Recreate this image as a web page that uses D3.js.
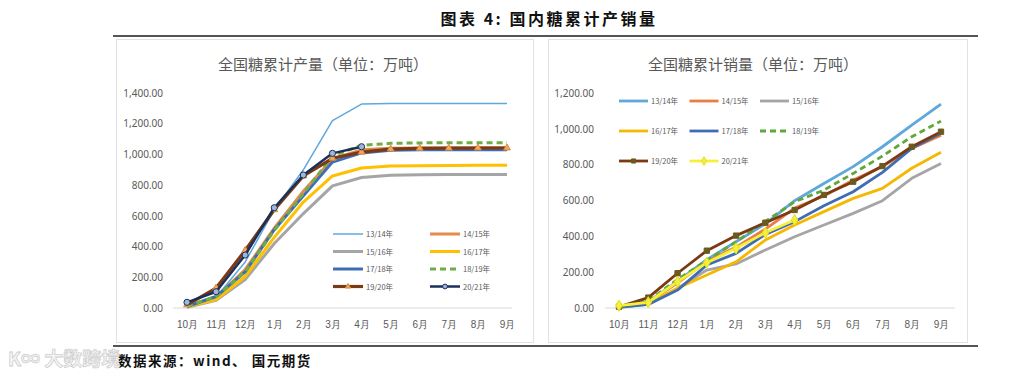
<!DOCTYPE html>
<html>
<head>
<meta charset="utf-8">
<script src="https://cdn.jsdelivr.net/npm/d3@7"></script>
<style>
  body { margin: 0; background: #fff; }
  svg { display: block; font-family: "Noto Sans CJK SC", "Noto Sans", sans-serif; }
</style>
</head>
<body>
<div id="chart"></div>
<script>
// months of the sugar season
const months = ['10月', '11月', '12月', '1月', '2月', '3月', '4月', '5月', '6月', '7月', '8月', '9月'];
const seasons = ['13/14年', '14/15年', '15/16年', '16/17年', '17/18年', '18/19年', '19/20年', '20/21年'];

// cumulative production (万吨)
const prod1314 = [13, 70, 300, 640, 900, 1220, 1328, 1331, 1331, 1331, 1331, 1332];
const prod1415 = [10, 70, 250, 520, 760, 970, 1030, 1040, 1042, 1042, 1043, 1043];
const prod1516 = [5, 50, 185, 420, 615, 795, 850, 865, 868, 869, 870, 870];
const prod1617 = [8, 55, 205, 460, 690, 860, 912, 925, 927, 928, 929, 929];
const prod1718 = [10, 75, 235, 510, 730, 950, 1010, 1027, 1030, 1031, 1031, 1031];
const prod1819 = [12, 75, 235, 505, 745, 990, 1060, 1072, 1075, 1076, 1076, 1076];
const prod1920 = [20, 130, 375, 640, 860, 975, 1015, 1035, 1040, 1041, 1042, 1042];
const prod2021 = [37, 106, 345, 653, 866, 1007, 1050];

// cumulative sales (万吨)
const sales1314 = [5, 35, 150, 270, 370, 470, 599, 695, 789, 900, 1021, 1138];
const sales1415 = [5, 30, 140, 260, 340, 440, 558, 625, 714, 789, 891, 965];
const sales1516 = [3, 20, 110, 212, 246, 324, 398, 463, 528, 599, 724, 807];
const sales1617 = [3, 25, 110, 184, 258, 379, 463, 538, 612, 668, 780, 869];
const sales1718 = [3, 20, 100, 240, 305, 411, 482, 571, 649, 757, 891, 975];
const sales1819 = [5, 40, 160, 265, 370, 483, 593, 658, 751, 848, 956, 1043];
const sales1920 = [7, 58, 194, 320, 404, 476, 547, 631, 705, 792, 900, 984];
const sales2021 = [13, 32, 147, 253, 333, 420, 491];

const svg = d3.select('#chart').append('svg')
    .attr('width', 1036)
    .attr('height', 376);

// heading and rules
svg.append('text')
    .attr('x', 549).attr('y', 25)
    .attr('text-anchor', 'middle')
    .attr('font-size', 16).attr('font-weight', 'bold')
    .attr('letter-spacing', 2.5)
    .attr('fill', '#111')
    .text('图表 4: 国内糖累计产销量');

svg.append('line').attr('x1', 113).attr('x2', 978).attr('y1', 36).attr('y2', 36)
    .attr('stroke', '#555').attr('stroke-width', 2);
svg.append('line').attr('x1', 113).attr('x2', 978).attr('y1', 346).attr('y2', 346)
    .attr('stroke', '#555').attr('stroke-width', 2);

// panel frames
svg.append('rect').attr('x', 116.5).attr('y', 39.5).attr('width', 417).attr('height', 303)
    .attr('fill', 'none').attr('stroke', '#e2e2e2');
svg.append('rect').attr('x', 548.5).attr('y', 39.5).attr('width', 419).attr('height', 303)
    .attr('fill', 'none').attr('stroke', '#e2e2e2');

// source + watermark
svg.append('text')
    .attr('x', 118).attr('y', 366)
    .attr('font-size', 13.5).attr('font-weight', 'bold')
    .attr('letter-spacing', 1.5)
    .attr('fill', '#111')
    .text('数据来源：wind、  国元期货');
svg.append('text')
    .attr('x', 8).attr('y', 366)
    .attr('font-size', 19).attr('font-weight', 'bold')
    .attr('fill', '#f6f6f6').attr('stroke', '#cfcfcf').attr('stroke-width', 0.8)
    .text('K∞ 大数跨境');

function drawPanel(cfg) {
    const x = d3.scalePoint().domain(months).range(cfg.xRange);
    const y = d3.scaleLinear().domain([0, cfg.yMax]).range([308, 93]);
    const g = svg.append('g');

    g.append('text')
        .attr('x', cfg.titleX).attr('y', 70)
        .attr('text-anchor', 'middle')
        .attr('font-size', 15).attr('fill', '#595959')
        .text(cfg.title);

    // y axis labels
    g.append('g')
        .attr('transform', `translate(${cfg.yLabelX},0)`)
        .call(d3.axisLeft(y).tickValues(d3.range(0, cfg.yMax + 1, 200))
            .tickSize(0).tickPadding(0).tickFormat(d3.format(',.2f')))
        .call(a => a.select('.domain').remove())
        .selectAll('text')
        .attr('font-size', 10).attr('fill', '#595959')
        .attr('font-family', '"Noto Sans", sans-serif');

    // x axis
    g.append('line')
        .attr('x1', cfg.axisX[0]).attr('x2', cfg.axisX[1])
        .attr('y1', y(0)).attr('y2', y(0))
        .attr('stroke', '#d9d9d9');
    g.append('g')
        .attr('transform', `translate(0,${y(0)})`)
        .call(d3.axisBottom(x).tickSize(0).tickPadding(13))
        .call(a => a.select('.domain').remove())
        .selectAll('text')
        .attr('font-size', 10).attr('fill', '#595959');

    const line = d3.line()
        .x((d, i) => x(months[i]))
        .y(d => y(d));

    cfg.series.forEach(s => {
        g.append('path')
            .datum(s.values)
            .attr('fill', 'none')
            .attr('stroke', s.color)
            .attr('stroke-width', s.width)
            .attr('stroke-dasharray', s.dash || null)
            .attr('stroke-linejoin', 'round')
            .attr('d', line);
        if (s.marker) {
            g.selectAll(null)
                .data(s.values)
                .enter()
                .append('path')
                .attr('transform', (d, i) => `translate(${x(months[i])},${y(d)})`)
                .attr('d', d3.symbol().type(s.marker.type).size(s.marker.size))
                .attr('fill', s.marker.fill)
                .attr('stroke', s.marker.stroke)
                .attr('stroke-width', 1);
        }
    });

    // legend
    cfg.series.forEach((s, i) => {
        const col = i % cfg.legend.cols;
        const row = Math.floor(i / cfg.legend.cols);
        const lx = cfg.legend.x + col * cfg.legend.colW;
        const ly = cfg.legend.y + row * cfg.legend.rowH;
        g.append('line')
            .attr('x1', lx).attr('x2', lx + cfg.legend.lineW)
            .attr('y1', ly).attr('y2', ly)
            .attr('stroke', s.color)
            .attr('stroke-width', s.width)
            .attr('stroke-dasharray', s.dash || null);
        if (s.marker) {
            g.append('path')
                .attr('transform', `translate(${lx + cfg.legend.lineW / 2},${ly})`)
                .attr('d', d3.symbol().type(s.marker.type).size(s.marker.size * 0.6))
                .attr('fill', s.marker.fill)
                .attr('stroke', s.marker.stroke);
        }
        g.append('text')
            .attr('x', lx + cfg.legend.lineW + 3).attr('y', ly + 3)
            .attr('font-size', 7.5).attr('fill', '#595959')
            .text(seasons[i]);
    });
}

drawPanel({
    title: '全国糖累计产量（单位：万吨）',
    titleX: 323,
    xRange: [187, 507],
    axisX: [173, 512],
    yMax: 1400,
    yLabelX: 163,
    series: [
        {values: prod1314, color: '#5fa8dc', width: 1.5},
        {values: prod1415, color: '#e68a4e', width: 3},
        {values: prod1516, color: '#a5a5a5', width: 3},
        {values: prod1617, color: '#ffc000', width: 3},
        {values: prod1718, color: '#3f6db5', width: 3},
        {values: prod1819, color: '#70ad47', width: 3, dash: '6,4'},
        {values: prod1920, color: '#7b3a14', width: 3.2,
            marker: {type: d3.symbolTriangle, size: 20, fill: '#f2a960', stroke: '#d88840'}},
        {values: prod2021, color: '#1b2f5a', width: 2.5,
            marker: {type: d3.symbolCircle, size: 30, fill: '#9fb6d8', stroke: '#1b2f5a'}}
    ],
    legend: {x: 333, y: 234, cols: 2, colW: 97, rowH: 17.5, lineW: 30}
});

drawPanel({
    title: '全国糖累计销量（单位：万吨）',
    titleX: 753,
    xRange: [619, 941],
    axisX: [605, 955],
    yMax: 1200,
    yLabelX: 594,
    series: [
        {values: sales1314, color: '#5fa8dc', width: 2.8},
        {values: sales1415, color: '#ec7c44', width: 2.8},
        {values: sales1516, color: '#a5a5a5', width: 2.8},
        {values: sales1617, color: '#f5b800', width: 2.8},
        {values: sales1718, color: '#3f6db5', width: 2.8},
        {values: sales1819, color: '#5fa83a', width: 2.8, dash: '6,4'},
        {values: sales1920, color: '#7b3a14', width: 2.8,
            marker: {type: d3.symbolSquare, size: 28, fill: '#6b5a1e', stroke: '#6b5a1e'}},
        {values: sales2021, color: '#f6f03a', width: 2.8,
            marker: {type: d3.symbolDiamond, size: 36, fill: '#f6f03a', stroke: '#e4dc20'}}
    ],
    legend: {x: 619, y: 101, cols: 3, colW: 70.5, rowH: 30, lineW: 29}
});
</script>
</body>
</html>
